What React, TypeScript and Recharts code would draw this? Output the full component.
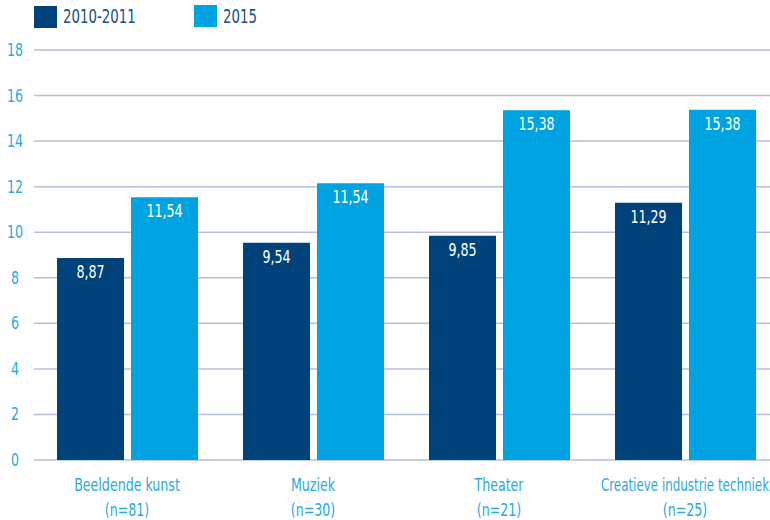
import { BarChart, Bar, XAxis, YAxis, CartesianGrid, LabelList } from 'recharts';

const categories = ['Beeldende kunst', 'Muziek', 'Theater', 'Creatieve industrie techniek'];
const sampleSizes = ['(n=81)', '(n=30)', '(n=21)', '(n=25)'];
const values2010 = [8.87, 9.54, 9.85, 11.29];
const values2015 = [11.54, 12.15, 15.36, 15.38];
const labels2010 = ['8,87', '9,54', '9,85', '11,29'];
const labels2015 = ['11,54', '11,54', '15,38', '15,38'];
const yTicks = [0, 2, 4, 6, 8, 10, 12, 14, 16, 18];

const data = categories.map((name, i) => ({
  name,
  n: sampleSizes[i],
  a: values2010[i],
  b: values2015[i],
  aLabel: labels2010[i],
  bLabel: labels2015[i],
}));

const FONT = '"DejaVu Sans Condensed", "DejaVu Sans", sans-serif';
const DARK = '#00437b';
const LIGHT = '#00a3e1';
const TICK = '#29a9e1';
const SQUEEZE = 0.78;
const CHART_W = 778;
const VISIBLE_W = 770;

// narrow text, the reference uses a condensed face
function NarrowText({ x, y, children, fill, size = 18, squeeze = SQUEEZE }: any) {
  return (
    <text
      transform={`translate(${x},${y}) scale(${squeeze},1)`}
      textAnchor="middle"
      fill={fill}
      fontSize={size}
      fontFamily={FONT}
    >
      {children}
    </text>
  );
}

function YTick({ y, payload }: any) {
  return <NarrowText x={15} y={y + 6} fill={TICK}>{payload.value}</NarrowText>;
}

function XTick({ x, payload, index }: any) {
  // the last category name is long, squeeze it a bit more so it stays in view
  const isLong = String(payload.value).length > 20;
  return (
    <g>
      <NarrowText x={x} y={491} fill={TICK} squeeze={isLong ? 0.735 : SQUEEZE}>{payload.value}</NarrowText>
      <NarrowText x={x} y={516} fill={TICK}>{sampleSizes[index]}</NarrowText>
    </g>
  );
}

function BarLabel({ x, y, width, value }: any) {
  return <NarrowText x={x + width / 2} y={y + 20} fill="#ffffff">{value}</NarrowText>;
}

export default function App() {
  const legendText = {
    display: 'inline-block',
    color: '#234f85',
    fontSize: 19,
    transform: `scaleX(${SQUEEZE})`,
    transformOrigin: 'left center',
  };
  return (
    <div style={{ position: 'relative', width: VISIBLE_W, height: 520, overflow: 'hidden', fontFamily: FONT }}>
      <style>{'html, body { margin: 0; padding: 0; overflow: hidden; }'}</style>
      <div style={{ position: 'absolute', top: 6, left: 34, width: 23, height: 22, background: DARK }} />
      <span style={{ ...legendText, position: 'absolute', top: 5, left: 63 }}>2010-2011</span>
      <div style={{ position: 'absolute', top: 5, left: 194, width: 23, height: 22, background: LIGHT }} />
      <span style={{ ...legendText, position: 'absolute', top: 5, left: 223 }}>2015</span>
      <BarChart
        width={CHART_W}
        height={520}
        data={data}
        margin={{ top: 50, right: 0, left: 0, bottom: 0 }}
        barSize={67}
        barGap={7}
      >
        <CartesianGrid vertical={false} stroke="#b3bfdc" strokeWidth={1.5} />
        <YAxis
          width={34}
          domain={[0, 18]}
          ticks={yTicks}
          axisLine={false}
          tickLine={false}
          tick={<YTick />}
          interval={0}
        />
        <XAxis
          dataKey="name"
          height={60}
          axisLine={false}
          tickLine={false}
          tick={<XTick />}
          interval={0}
        />
        <Bar dataKey="a" fill={DARK} isAnimationActive={false}>
          <LabelList dataKey="aLabel" content={<BarLabel />} />
        </Bar>
        <Bar dataKey="b" fill={LIGHT} isAnimationActive={false}>
          <LabelList dataKey="bLabel" content={<BarLabel />} />
        </Bar>
      </BarChart>
    </div>
  );
}
